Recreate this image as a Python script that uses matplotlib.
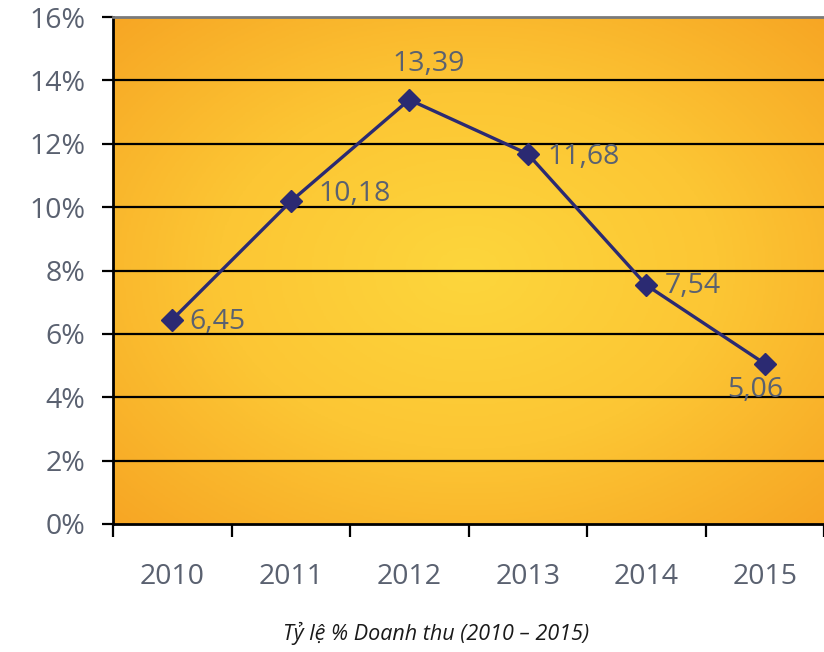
import numpy as np
import matplotlib
matplotlib.use("Agg")
import matplotlib.pyplot as plt
from matplotlib.colors import LinearSegmentedColormap

years = ["2010", "2011", "2012", "2013", "2014", "2015"]
values = [6.45, 10.18, 13.39, 11.68, 7.54, 5.06]
value_labels = ["6,45", "10,18", "13,39", "11,68", "7,54", "5,06"]
yticks = [0, 2, 4, 6, 8, 10, 12, 14, 16]
title = "Tỷ lệ % Doanh thu (2010 – 2015)"

plt.rcParams['font.family'] = ['Open Sans', 'DejaVu Sans']
label_color = "#5a6170"
line_color = "#2b2a72"

fig = plt.figure(figsize=(8.24, 6.52), dpi=100)
ax = fig.add_axes([113/824, 1-524/652, 1-113/824, (524-17)/652])

x = np.arange(len(years))
ax.set_xlim(-0.5, len(years) - 0.5)
ax.set_ylim(0, 16)

# radial gradient background
gx, gy = np.meshgrid(np.linspace(-1, 1, 400), np.linspace(-1, 1, 300))
r = np.sqrt(gx**2 + gy**2) / np.sqrt(2)
cmap = LinearSegmentedColormap.from_list("g", ["#fdd63c", "#fcc634", "#f7a624"])
ax.imshow(r, extent=[-0.5, len(years) - 0.5, 0, 16], aspect="auto",
          cmap=cmap, vmin=0, vmax=1, zorder=0, origin="lower")

for t in yticks[1:-1]:
    ax.axhline(t, color="black", lw=1.6, zorder=1)

ax.plot(x, values, color=line_color, lw=2.4, marker="D", markersize=11,
        zorder=3)

offsets = [(12, -2, "left", "center"), (20, 5, "left", "center"),
           (14, 26, "center", "center"), (14, -2, "left", "center"),
           (13, -1, "left", "center"), (-7, -19, "center", "center")]
for xi, v, lab, (dx, dy, ha, va) in zip(x, values, value_labels, offsets):
    ax.annotate(lab, (xi, v), xytext=(dx, dy), textcoords="offset points",
                ha=ha, va=va, fontsize=20.5, color=label_color, zorder=4)

ax.spines["right"].set_visible(False)
ax.spines["top"].set_color("#7a7a7a")
ax.spines["top"].set_linewidth(2)
ax.spines["left"].set_color("black")
ax.spines["left"].set_linewidth(2)
ax.spines["bottom"].set_color("black")
ax.spines["bottom"].set_linewidth(2)

ax.set_yticks(yticks)
ax.set_yticklabels([f"{t}%" for t in yticks])
ax.tick_params(axis="y", length=8, width=1.6, color="black",
               labelsize=20.5, labelcolor=label_color, pad=12)

ax.set_xticks(x)
ax.set_xticklabels(years)
ax.set_xticks(np.arange(-0.5, len(years)), minor=True)
ax.tick_params(axis="x", which="major", length=0, labelsize=20.5,
               labelcolor=label_color, pad=28)
ax.tick_params(axis="x", which="minor", length=9, width=1.6, color="black")

fig.text(436/824, 1-633/652, title, ha="center", va="center", fontsize=15.5,
         style="italic", color="#1a1a1a")

fig.savefig("out.png", dpi=100)
